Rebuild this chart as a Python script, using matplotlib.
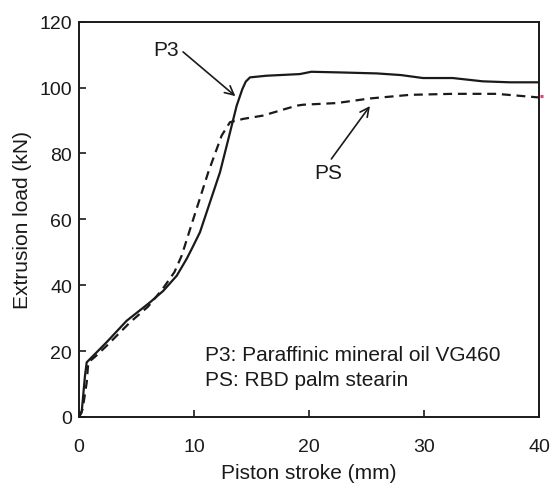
import matplotlib
matplotlib.use("Agg")
import matplotlib.pyplot as plt

plt.rcParams['font.family'] = ['Liberation Sans', 'DejaVu Sans']

# P3: paraffinic mineral oil (solid)
p3_x = [0, 0.23, 0.52, 0.67, 1.24, 2.4, 4.14, 6.17, 7.33, 8.5, 9.36, 9.8, 10.52,
        11.39, 12.26, 12.99, 13.71, 14.2, 14.5, 14.87, 16.3, 19.2, 20.2, 22.7,
        25.9, 28, 29.9, 32.5, 35.1, 37.5, 40]
p3_y = [0, 1.4, 12.5, 16.6, 18.6, 22.7, 29.2, 34.8, 38.3, 42.9, 48, 51, 56.1,
        65.2, 74.3, 84.4, 94.5, 99.5, 101.8, 103.1, 103.6, 104.1, 104.8, 104.6,
        104.3, 103.8, 102.9, 102.9, 101.9, 101.6, 101.6]

# PS: RBD palm stearin (dashed)
ps_x = [0, 0.32, 0.67, 0.81, 1.4, 2.4, 4.43, 6.0, 7.3, 8.3, 8.93, 9.94, 11.24,
        12.4, 13.13, 14.29, 16.0, 18.9, 19.5, 22.4, 25.3, 28.8, 32.5, 36.3, 40]
ps_y = [0, 2.4, 10.5, 16.6, 18.3, 21.6, 28.7, 33.5, 39, 44, 49, 60.1, 74.3,
        85.4, 89.5, 90.5, 91.5, 94.5, 94.8, 95.3, 96.7, 97.8, 98.1, 98.1, 97]

x_ticks = [0, 10, 20, 30, 40]
y_ticks = [0, 20, 40, 60, 80, 100, 120]

fig = plt.figure(figsize=(5.53, 4.85), dpi=100)
ax = fig.add_axes([79 / 553, 1 - 418 / 485, 460 / 553, 395.3 / 485])

ax.plot(p3_x, p3_y, color='#1a1a1a', lw=1.6, solid_joinstyle='round')
ax.plot(ps_x, ps_y, color='#1a1a1a', lw=1.6, dashes=(4, 2.6))

# small magenta mark at the right edge (as in the original)
ax.plot([40.05, 40.35], [97.3, 97.3], color='#e8388a', lw=2.2, clip_on=False,
        solid_capstyle='butt')

ax.set_xlim(0, 40)
ax.set_ylim(0, 120)
ax.set_xticks(x_ticks)
ax.set_yticks(y_ticks)
ax.tick_params(direction='in', length=5, width=1.2, labelsize=14,
               colors='#1a1a1a')
ax.tick_params(axis='x', pad=15)
ax.tick_params(axis='y', pad=5)
for s in ax.spines.values():
    s.set_linewidth(1.4)
    s.set_color('#1a1a1a')

ax.set_xlabel('Piston stroke (mm)', fontsize=15, color='#1a1a1a', labelpad=6)
ax.set_ylabel('Extrusion load (kN)', fontsize=15, color='#1a1a1a', labelpad=5)

arrow = dict(arrowstyle='->', color='#1a1a1a', lw=1.2, mutation_scale=16,
             shrinkA=0, shrinkB=0)
ax.annotate('P3', xy=(13.6, 97.4), xytext=(7.6, 111.7), fontsize=15,
            ha='center', va='center', color='#1a1a1a',
            arrowprops=dict(arrow, relpos=(1.15, 0.35)))
ax.annotate('PS', xy=(25.3, 94.4), xytext=(21.7, 74.3), fontsize=15,
            ha='center', va='center', color='#1a1a1a',
            arrowprops=dict(arrow, relpos=(0.6, 1.2)))

ax.text(10.95, 19.1, 'P3: Paraffinic mineral oil VG460', fontsize=15,
        va='center', color='#1a1a1a')
ax.text(10.95, 11.4, 'PS: RBD palm stearin', fontsize=15,
        va='center', color='#1a1a1a')

fig.savefig('out.png', dpi=100)
